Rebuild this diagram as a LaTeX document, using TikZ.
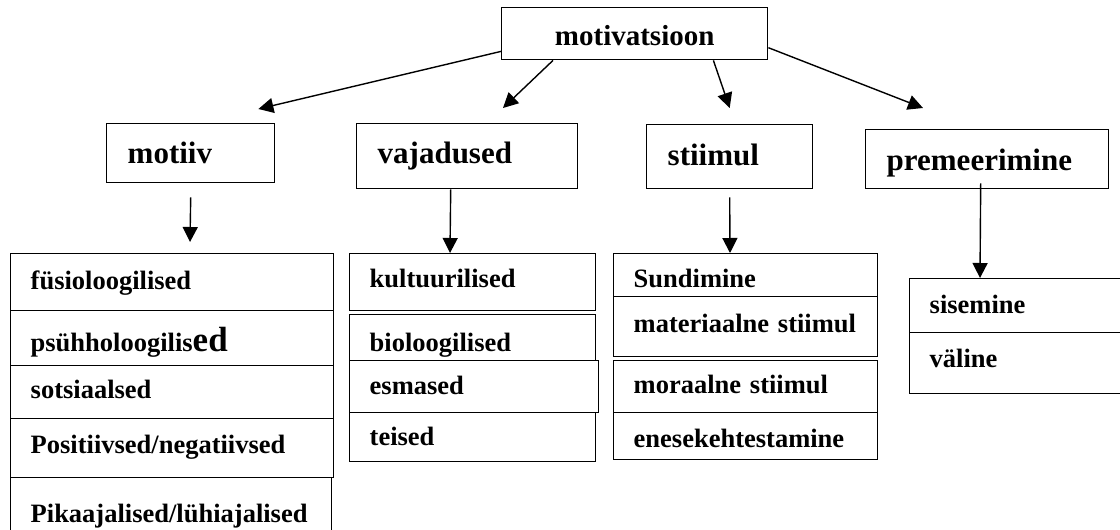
\documentclass[tikz,border=0pt]{standalone}
\usepackage{fontspec}
\setmainfont{Liberation Serif}
\usetikzlibrary{arrows.meta}

\begin{document}
\begin{tikzpicture}[x=1pt, y=-1pt,
	box/.style={draw, line width=1.4pt, fill=white, anchor=north west, inner ysep=0pt, align=left},
	rootbox/.style={box, inner xsep=0pt, align=center, font=\fontsize{29}{34}\selectfont\bfseries},
	headbox/.style={box, inner xsep=21pt, font=\fontsize{31}{36}\selectfont\bfseries},
	cellbox/.style={box, inner xsep=20pt, font=\fontsize{26.5}{31}\selectfont\bfseries},
	arr/.style={line width=1.4pt, -{Triangle[length=15pt,width=15pt]}}]
	\useasboundingbox (0,0) rectangle (1120,530);
	
	\node[rootbox, minimum width=266pt, text height=38pt, text depth=14pt] (mot) at (501,7) {motivatsioon};
	
	\node[headbox, text width=126pt, text height=40pt, text depth=19pt] (motiiv) at (106,123) {motiiv};
	\node[headbox, text width=179pt, text height=40pt, text depth=25pt] (vaj) at (356,123) {vajadused};
	\node[headbox, text width=124pt, text height=41pt, text depth=23pt] (sti) at (646,124) {stiimul};
	\node[headbox, text width=201pt, text height=41pt, text depth=18pt] (pre) at (865,129) {premeerimine};
	
	\node[cellbox, text width=283pt, text height=36pt, text depth=21pt] (f1) at (10,253) {füsioloogilised};
	\node[cellbox, text width=283pt, text height=41pt, text depth=14pt] (f2) at (10,310) {psühholoogilis{\fontsize{35}{40}\selectfont ed}};
	\node[cellbox, text width=283pt, text height=33pt, text depth=20pt] (f3) at (10,365) {sotsiaalsed};
	\node[cellbox, text width=283pt, text height=35pt, text depth=24pt] (f4) at (10,418) {Positiivsed/negatiivsed};
	\node[cellbox, text width=281pt, text height=45pt, text depth=23pt] (f5) at (10,477) {Pikaajalised/lühiajalised};
	
	\node[cellbox, text width=206pt, text height=34pt, text depth=23pt] (v1) at (349,253) {kultuurilised};
	\node[cellbox, text width=206pt, text height=37pt, text depth=19pt] (v2) at (349,314) {bioloogilised};
	\node[cellbox, text width=209pt, text height=34pt, text depth=18pt] (v3) at (349,360) {esmased};
	\node[cellbox, text width=206pt, text height=33pt, text depth=16pt] (v4) at (349,412) {teised};
	
	\node[cellbox, text width=224pt, text height=34pt, text depth=9pt] (s1) at (613,253) {Sundimine};
	\node[cellbox, text width=224pt, text height=36pt, text depth=24pt] (s2) at (613,296) {materiaalne stiimul};
	\node[cellbox, text width=224pt, text height=33pt, text depth=19pt] (s3) at (613,360) {moraalne stiimul};
	\node[cellbox, text width=224pt, text height=35pt, text depth=12pt] (s4) at (613,412) {enesekehtestamine};
	
	\node[cellbox, text width=186pt, text height=35pt, text depth=19pt] (p1) at (909,278) {sisemine};
	\node[cellbox, text width=186pt, text height=35pt, text depth=26pt] (p2) at (909,332) {väline};
	
	\draw[arr] ([yshift=9pt]mot.south west) -- ([xshift=-17pt,yshift=14pt]motiiv.north east);
	\draw[arr] ([xshift=52pt]mot.south west) -- ([xshift=147pt,yshift=15pt]vaj.north west);
	\draw[arr] ([xshift=-55pt]mot.south east) -- ([yshift=16pt]sti.north);
	\draw[arr] ([yshift=-14pt]mot.east) -- ([xshift=58pt,yshift=21pt]pre.north west);
	
	\draw[arr] ([yshift=-14pt]motiiv.south) -- ([xshift=180pt,yshift=11pt]f1.north west);
	\draw[arr] ([xshift=-16.5pt]vaj.south) -- ([xshift=101pt]v1.north west);
	\draw[arr] ([yshift=-8pt]sti.south) -- ([xshift=117pt]s1.north west);
	\draw[arr] ([xshift=-6.5pt,yshift=6pt]pre.south) -- ([xshift=71pt]p1.north west);
\end{tikzpicture}
\end{document}
